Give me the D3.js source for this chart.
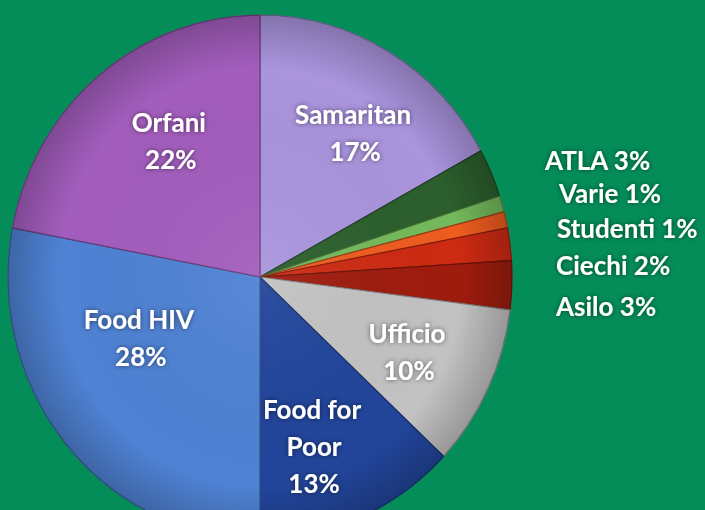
<!DOCTYPE html>
<html>
<head>
<meta charset="utf-8">
<script src="https://cdn.jsdelivr.net/npm/d3@7"></script>
<style>
  html, body { margin: 0; padding: 0; background: #048d58; }
  svg text { font-family: Lato, "Open Sans", sans-serif; font-weight: 700; fill: #fff; }
</style>
</head>
<body>
<div id="container"></div>
<script>
// data, clockwise from 12 o'clock
var categories = ["Samaritan", "ATLA", "Varie", "Studenti", "Ciechi", "Asilo", "Ufficio", "Food for Poor", "Food HIV", "Orfani"];
var shares = [17, 3, 1, 1, 2, 3, 10, 13, 28, 22];
var colors = ["#a994dd", "#2c5f2d", "#74b95b", "#ee5c1f", "#cd2a12", "#9e1c0e", "#c2c2c2", "#22459b", "#4f82d4", "#a35dbd"];

(function () {
	var width = 705, height = 510;
	var cx = 260, cy = 277, radius = 262;

	var svg = d3.select("#container").append("svg")
		.attr("width", width)
		.attr("height", height);

	var defs = svg.append("defs");

	// glow under the labels
	var f = defs.append("filter").attr("id", "glow")
		.attr("x", "-20%").attr("y", "-40%").attr("width", "140%").attr("height", "180%");
	f.append("feDropShadow")
		.attr("dx", 0).attr("dy", 0)
		.attr("stdDeviation", 2.5)
		.attr("flood-color", "#000")
		.attr("flood-opacity", 0.55);

	// darker rim, a bit of 3d feel
	var rg = defs.append("radialGradient").attr("id", "rim")
		.attr("cx", "50%").attr("cy", "50%").attr("r", "50%");
	rg.append("stop").attr("offset", "0%").attr("stop-color", "#fff").attr("stop-opacity", 0.06);
	rg.append("stop").attr("offset", "80%").attr("stop-color", "#000").attr("stop-opacity", 0);
	rg.append("stop").attr("offset", "100%").attr("stop-color", "#000").attr("stop-opacity", 0.22);

	var data = categories.map(function (c, i) { return {name: c, value: shares[i], color: colors[i]}; });

	var pie = d3.pie()
		.sort(null)
		.value(function (d) { return d.value; });

	var arc = d3.arc()
		.innerRadius(0)
		.outerRadius(radius);

	var g = svg.append("g")
		.attr("transform", "translate(" + cx + "," + cy + ") scale(0.962,1)");

	g.selectAll(".slice")
		.data(pie(data))
		.enter()
		.append("path")
			.attr("class", "slice")
			.attr("d", arc)
			.attr("fill", function (d) { return d.data.color; })
			.attr("stroke", function (d) { return d3.rgb(d.data.color).darker(1.2); })
			.attr("stroke-width", 1.2)
			.attr("stroke-linejoin", "round");

	g.append("circle")
		.attr("r", radius)
		.attr("fill", "url(#rim)")
		.style("pointer-events", "none");

	// labels inside the big slices (polar offsets from centre)
	var inside = {
		"Samaritan":     {ang: 33, dist: 171, lines: ["Samaritan"]},
		"Orfani":        {ang: -34, dist: 163, lines: ["Orfani"]},
		"Food HIV":      {ang: -117, dist: 136, lines: ["Food HIV"]},
		"Ufficio":       {ang: 117, dist: 165, lines: ["Ufficio"]},
		"Food for Poor": {ang: 163, dist: 178, lines: ["Food for", "Poor"]}
	};
	var lineH = 37;

	var labels = svg.append("g").attr("filter", "url(#glow)");

	data.forEach(function (d) {
		var p = inside[d.name];
		if (!p) return;
		var a = p.ang * Math.PI / 180;
		var x = cx + Math.sin(a) * p.dist,
			y = cy - Math.cos(a) * p.dist;
		var lines = p.lines.concat([d.value + "%"]);
		var y0 = y - (lines.length - 1) * lineH / 2;
		var t = labels.append("text")
			.attr("text-anchor", "middle")
			.style("font-size", "26px");
		lines.forEach(function (l, i) {
			t.append("tspan")
				.attr("x", x + (i > 0 ? 2 : 0))
				.attr("y", y0 + i * lineH)
				.attr("dy", "0.35em")
				.text(l);
		});
	});

	// small slices: listed on the right
	var outside = {
		"ATLA":     [545, 161],
		"Varie":    [559, 194],
		"Studenti": [557, 229],
		"Ciechi":   [556, 266],
		"Asilo":    [556, 307]
	};
	data.forEach(function (d) {
		var p = outside[d.name];
		if (!p) return;
		labels.append("text")
			.attr("x", p[0])
			.attr("y", p[1])
			.attr("dy", "0.35em")
			.style("font-size", "26px")
			.text(d.name + " " + d.value + "%");
	});
})();
</script>
</body>
</html>
